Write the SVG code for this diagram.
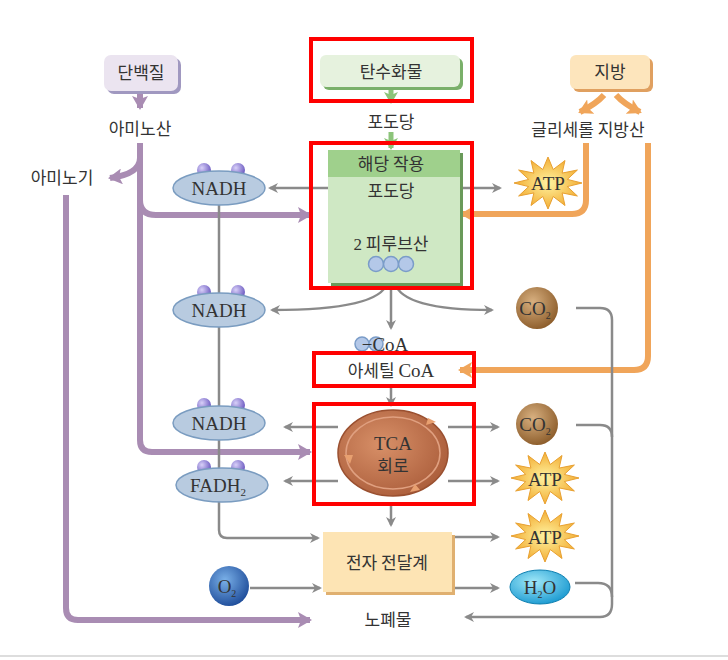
<svg xmlns="http://www.w3.org/2000/svg" width="728" height="660" viewBox="0 0 728 660">
<defs>
<style>
.k{font-family:"Noto Sans CJK KR","Noto Sans",sans-serif;font-size:17px;fill:#333;text-anchor:middle}
.s{font-family:"Liberation Serif",serif;font-size:19px;fill:#333;text-anchor:middle}
.g{fill:none;stroke:#8a8a8a;stroke-width:2.5}
.p{fill:none;stroke:#a98cb3;stroke-width:6}
.o{fill:none;stroke:#f0a55a;stroke-width:6}
.gr{fill:none;stroke:#8cc47a;stroke-width:5}
.red{fill:none;stroke:#f00;stroke-width:4}
.nad{fill:#b8cbe0;stroke:#7a9cc0;stroke-width:1.5}
.ball{fill:url(#bl)}
</style>
<radialGradient id="bl" cx="0.35" cy="0.35" r="0.7"><stop offset="0" stop-color="#d8d0f8"/><stop offset="1" stop-color="#6a58c0"/></radialGradient>
<radialGradient id="st" cx="0.5" cy="0.5" r="0.6"><stop offset="0" stop-color="#fff3a0"/><stop offset="1" stop-color="#f0a020"/></radialGradient>
<radialGradient id="co" cx="0.4" cy="0.35" r="0.7"><stop offset="0" stop-color="#d8b080"/><stop offset="1" stop-color="#8a5a28"/></radialGradient>
<radialGradient id="ox" cx="0.4" cy="0.35" r="0.7"><stop offset="0" stop-color="#7ab0e8"/><stop offset="1" stop-color="#1c4a98"/></radialGradient>
<radialGradient id="wa" cx="0.4" cy="0.35" r="0.7"><stop offset="0" stop-color="#a0e8f8"/><stop offset="1" stop-color="#1898d0"/></radialGradient>
<radialGradient id="tca" cx="0.4" cy="0.4" r="0.7"><stop offset="0" stop-color="#d89068"/><stop offset="1" stop-color="#a85a38"/></radialGradient>
<marker id="ag" markerWidth="10" markerHeight="10" refX="8" refY="5" orient="auto" markerUnits="userSpaceOnUse"><path d="M0,0 L10,5 L0,10 L3,5 Z" fill="#8a8a8a"/></marker>
<marker id="ap" markerWidth="16" markerHeight="16" refX="12" refY="8" orient="auto" markerUnits="userSpaceOnUse"><path d="M0,0 L14,8 L0,16 L3,8 Z" fill="#a98cb3"/></marker>
<marker id="ao" markerWidth="16" markerHeight="16" refX="12" refY="8" orient="auto" markerUnits="userSpaceOnUse"><path d="M0,0 L14,8 L0,16 L3,8 Z" fill="#f0a55a"/></marker>
<marker id="agr" markerWidth="14" markerHeight="14" refX="10" refY="7" orient="auto" markerUnits="userSpaceOnUse"><path d="M0,0 L12,7 L0,14 L3,7 Z" fill="#8cc47a"/></marker>
<polygon id="star" fill="url(#st)" stroke="#e8a030" stroke-width="1" points="34,0 19.3,3.6 29.4,13 14.1,9.9 17,22.5 5.2,13.5 0,26 -5.2,13.5 -17,22.5 -14.1,9.9 -29.4,13 -19.3,3.6 -34,0 -19.3,-3.6 -29.4,-13 -14.1,-9.9 -17,-22.5 -5.2,-13.5 0,-26 5.2,-13.5 17,-22.5 14.1,-9.9 29.4,-13 19.3,-3.6"/>
</defs>
<rect width="728" height="660" fill="#fff"/>
<line x1="0" y1="656" x2="728" y2="656" stroke="#ddd" stroke-width="2"/>

<g id="connectors">
<path class="p" d="M140,92 V108" marker-end="url(#ap)"/>
<path class="p" d="M140,143 V440 Q140,452 152,452 H310" marker-end="url(#ap)"/>
<path class="p" d="M140,158 Q140,174 110,178" marker-end="url(#ap)"/>
<path class="p" d="M140,200 Q140,215 156,215 H310" marker-end="url(#ap)"/>
<path class="p" d="M66,195 V608 Q66,620 78,620 H310" marker-end="url(#ap)"/>
<path class="gr" d="M391,88 V102" marker-end="url(#agr)"/>
<path class="gr" d="M391,132 V148" marker-end="url(#agr)"/>
<path class="o" d="M604,95 Q596,104 580,112" marker-end="url(#ao)"/>
<path class="o" d="M616,95 Q624,104 640,112" marker-end="url(#ao)"/>
<path class="o" d="M586,143 V200 Q586,214 572,214 H462" marker-end="url(#ao)"/>
<path class="o" d="M648,143 V356 Q648,370 634,370 H460" marker-end="url(#ao)"/>
<path class="g" d="M219,205 V530 Q219,538 227,538 H318" marker-end="url(#ag)"/>
<path class="g" d="M328,188 H270" marker-end="url(#ag)"/>
<path class="g" d="M460,188 H500" marker-end="url(#ag)"/>
<path class="g" d="M391,200 V222" marker-end="url(#ag)"/>
<path class="g" d="M387,283 Q380,310 272,310" marker-end="url(#ag)"/>
<path class="g" d="M395,283 Q402,310 492,310" marker-end="url(#ag)"/>
<path class="g" d="M391,283 V328" marker-end="url(#ag)"/>
<path class="g" d="M391,384 V405" marker-end="url(#ag)"/>
<path class="g" d="M338,427 H285" marker-end="url(#ag)"/>
<path class="g" d="M448,427 H498" marker-end="url(#ag)"/>
<path class="g" d="M338,481 H285" marker-end="url(#ag)"/>
<path class="g" d="M448,481 H498" marker-end="url(#ag)"/>
<path class="g" d="M391,505 V525" marker-end="url(#ag)"/>
<path class="g" d="M452,537 H498" marker-end="url(#ag)"/>
<path class="g" d="M452,588 H498" marker-end="url(#ag)"/>
<path class="g" d="M250,588 H320" marker-end="url(#ag)"/>
<path class="g" d="M576,308 H600 Q612,308 612,320 V604 Q612,617 600,617 H466" marker-end="url(#ag)"/>
<path class="g" d="M576,425 H600 Q612,425 612,437"/>
<path class="g" d="M575,583 H598 Q612,583 612,597"/>
</g>

<g id="protein"><rect x="107" y="58" width="74" height="36" rx="7" fill="#a098c0"/><rect x="104" y="55" width="74" height="36" rx="7" fill="#ebe4f0"/><text class="k" x="141" y="79">단백질</text></g>
<text class="k" x="140" y="135">아미노산</text>
<text class="k" x="62" y="184">아미노기</text>

<g id="carb"><rect x="323" y="58" width="140" height="32" rx="6" fill="#7ab06a"/><rect x="320" y="55" width="140" height="32" rx="6" fill="#e6f2de"/><text class="k" x="391" y="78">탄수화물</text></g>
<text class="k" x="391" y="128">포도당</text>

<g id="fat"><rect x="573" y="58" width="80" height="34" rx="6" fill="#e0a060"/><rect x="570" y="55" width="80" height="34" rx="6" fill="#fde5bc"/><text class="k" x="610" y="78">지방</text></g>
<text class="k" x="588" y="136">글리세롤 지방산</text>

<g id="glycolysis">
<rect x="331" y="153" width="132" height="133" fill="#6a9a5a"/>
<rect x="328" y="150" width="132" height="133" fill="#cfe8c4"/>
<rect x="328" y="150" width="132" height="27" fill="#9fd08c"/>
<text class="k" x="391" y="170">해당 작용</text>
<text class="k" x="391" y="197">포도당</text>
<text class="k" x="391" y="250"><tspan font-family="Liberation Serif">2</tspan> 피루브산</text>
<g fill="#b4c8e8" stroke="#7a9cc8" stroke-width="1.5"><circle cx="376" cy="264" r="7.5"/><circle cx="391" cy="264" r="7.5"/><circle cx="406" cy="264" r="7.5"/></g>
</g>

<g id="nadh1"><circle class="ball" cx="204" cy="170" r="7"/><circle class="ball" cx="238" cy="170" r="7"/><ellipse class="nad" cx="219" cy="188" rx="46" ry="17"/><text class="s" x="219" y="195">NADH</text></g>
<g id="nadh2"><circle class="ball" cx="204" cy="292" r="7"/><circle class="ball" cx="238" cy="292" r="7"/><ellipse class="nad" cx="219" cy="310" rx="46" ry="17"/><text class="s" x="219" y="317">NADH</text></g>
<g id="nadh3"><circle class="ball" cx="204" cy="405" r="7"/><circle class="ball" cx="238" cy="405" r="7"/><ellipse class="nad" cx="219" cy="423" rx="46" ry="17"/><text class="s" x="219" y="430">NADH</text></g>
<g id="fadh2"><circle class="ball" cx="204" cy="467" r="7"/><circle class="ball" cx="238" cy="467" r="7"/><ellipse class="nad" cx="222" cy="485" rx="46" ry="17"/><text class="s" x="218" y="492">FADH<tspan font-size="11" dy="4">2</tspan></text></g>

<g id="atp1"><use href="#star" x="548" y="183"/><text class="s" x="548" y="190">ATP</text></g>
<g id="atp2"><use href="#star" x="545" y="478"/><text class="s" x="545" y="486">ATP</text></g>
<g id="atp3"><use href="#star" x="545" y="536"/><text class="s" x="545" y="544">ATP</text></g>

<g id="co2a"><circle cx="537" cy="308" r="21" fill="url(#co)"/><text class="s" x="535" y="315" font-size="17">CO<tspan font-size="10" dy="4">2</tspan></text></g>
<g id="co2b"><circle cx="537" cy="424" r="21" fill="url(#co)"/><text class="s" x="535" y="431" font-size="17">CO<tspan font-size="10" dy="4">2</tspan></text></g>

<g id="acetyl">
<g fill="#b4c8e8" stroke="#7a9cc8" stroke-width="1.5"><circle cx="362" cy="344" r="7"/><circle cx="376" cy="344" r="7"/></g>
<text class="s" x="385" y="351" text-anchor="start">−CoA</text>
<text class="k" x="391" y="377">아세틸 <tspan font-family="Liberation Serif" font-size="19">CoA</tspan></text>
</g>

<g id="tca">
<ellipse cx="393" cy="453" rx="55" ry="43" fill="url(#tca)" stroke="#9a5030" stroke-width="1.5"/>
<ellipse cx="393" cy="453" rx="47" ry="36" fill="none" stroke="#e0a080" stroke-width="1.5"/>
<path d="M428,418 l8,4 l-10,3 Z M350,464 l-6,-9 l9,0 Z M420,490 l-10,2 l5,-8 Z" fill="#e8a070"/>
<text class="s" x="393" y="450" font-size="20">TCA</text>
<text class="k" x="393" y="472" fill="#5a2a10">회로</text>
</g>

<g id="etc"><rect x="326" y="535" width="129" height="60" fill="#e0b070"/><rect x="323" y="532" width="129" height="60" fill="#fde4b4"/><text class="k" x="387" y="569">전자 전달계</text></g>
<g id="o2"><circle cx="229" cy="586" r="20" fill="url(#ox)"/><text class="s" x="227" y="593" font-size="17">O<tspan font-size="10" dy="4">2</tspan></text></g>
<g id="h2o"><ellipse cx="540" cy="587" rx="30" ry="17" fill="url(#wa)" stroke="#1080b0" stroke-width="1"/><text class="s" x="540" y="594" font-size="17">H<tspan font-size="10" dy="4">2</tspan><tspan dy="-4">O</tspan></text></g>
<text class="k" x="388" y="626">노폐물</text>

<g id="highlights">
<rect class="red" x="311" y="39" width="161" height="62"/>
<rect class="red" x="311" y="143" width="161" height="145"/>
<rect class="red" x="314" y="353" width="160" height="33"/>
<rect class="red" x="314" y="404" width="160" height="100"/>
</g>
</svg>
